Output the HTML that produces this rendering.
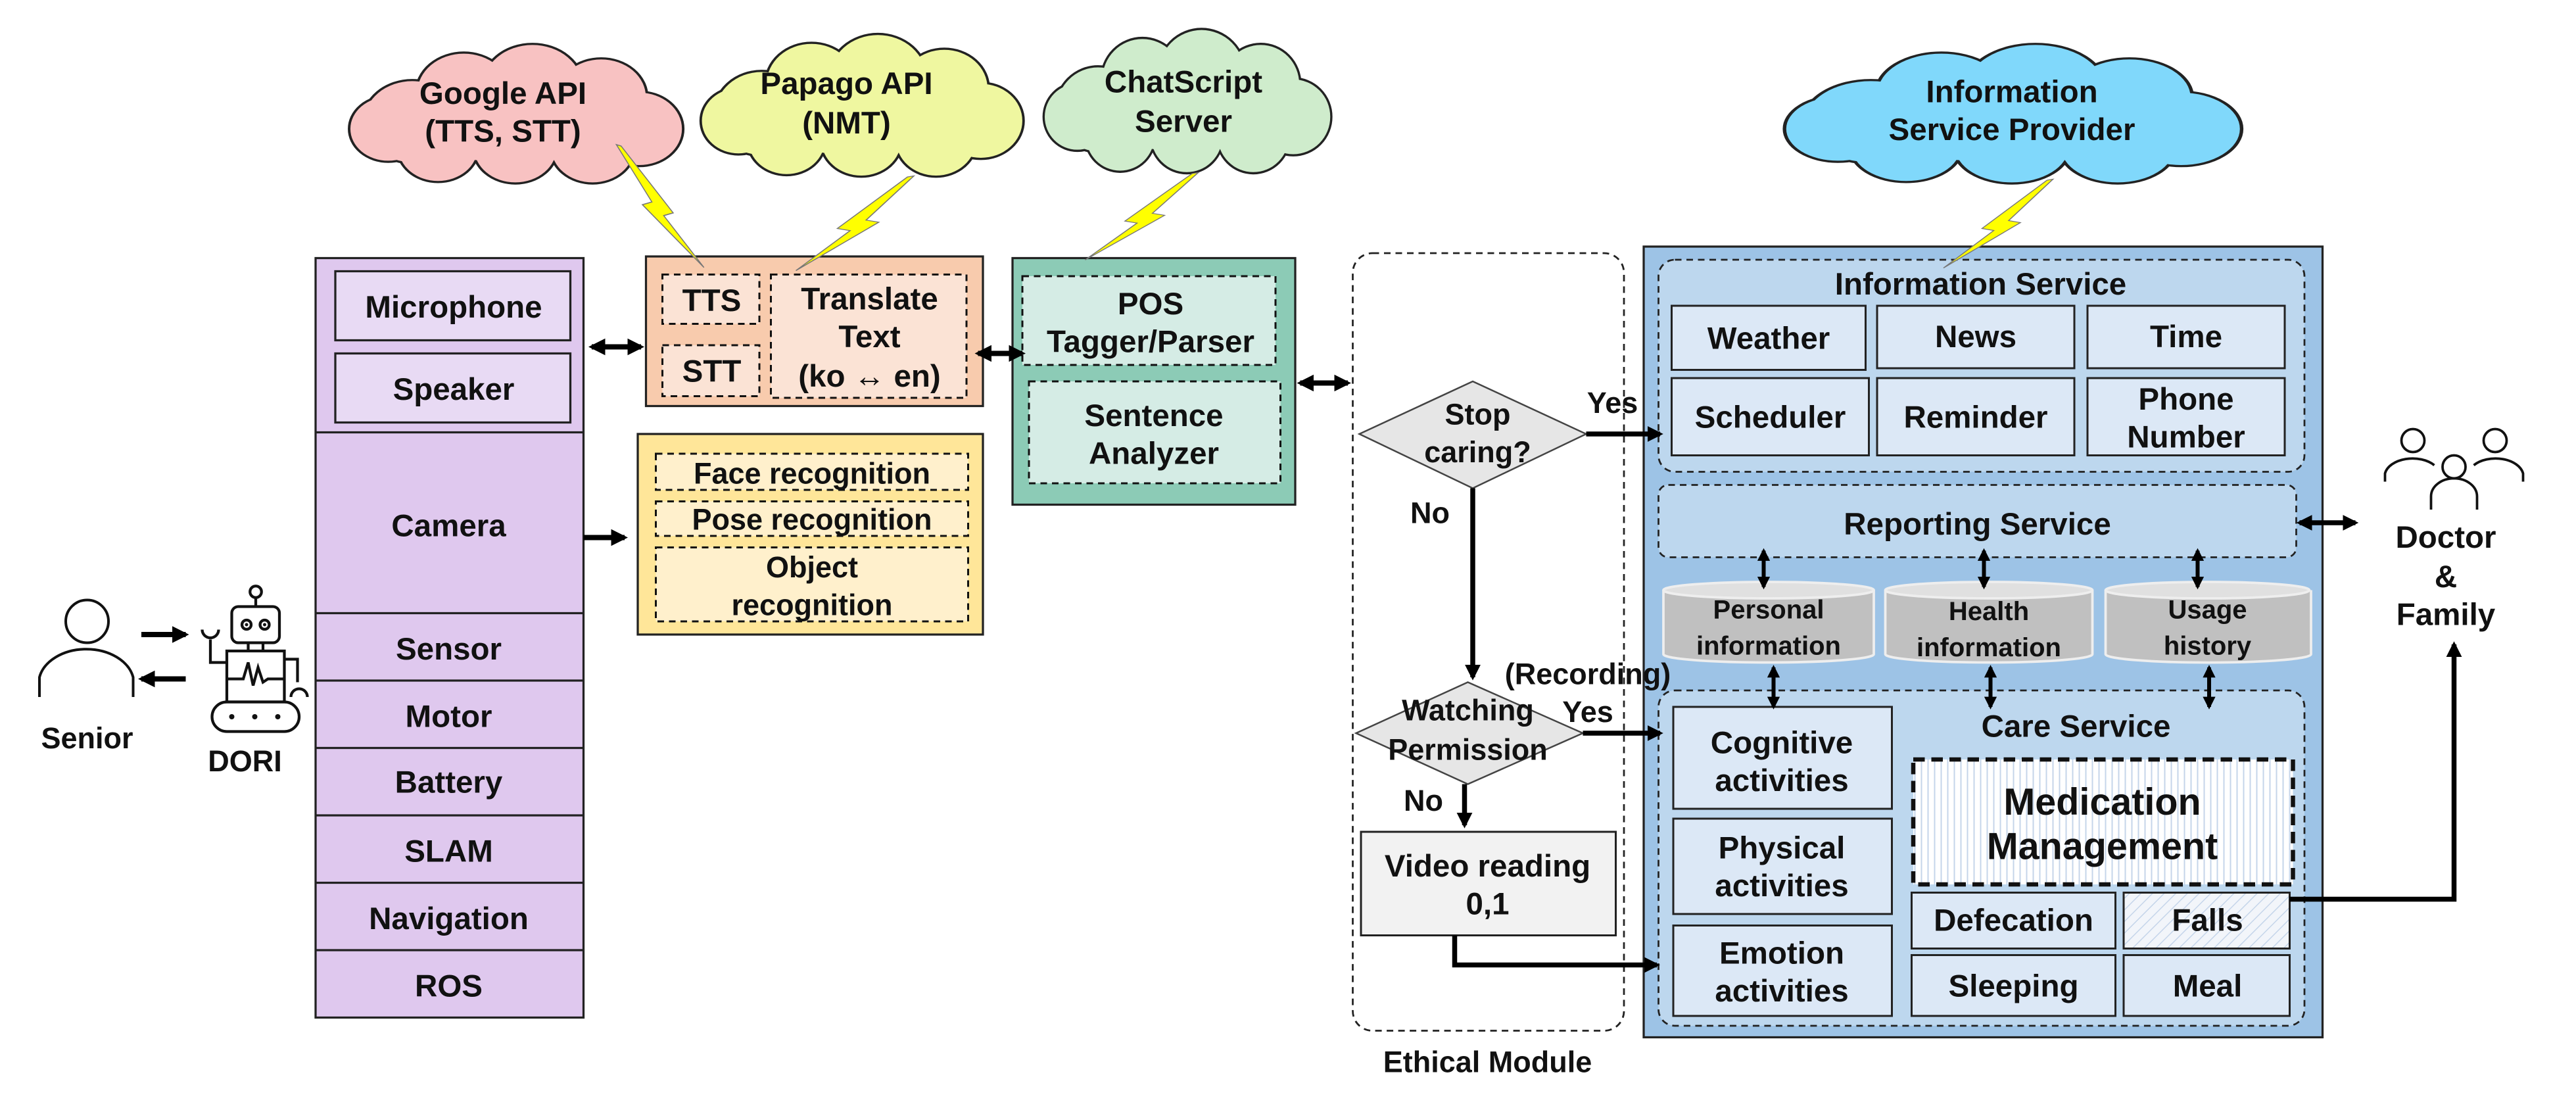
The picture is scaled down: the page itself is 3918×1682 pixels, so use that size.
<!DOCTYPE html>
<html><head><meta charset="utf-8"><style>
html,body{margin:0;padding:0;background:#fff;}
svg{display:block;}
text{font-family:"Liberation Sans",sans-serif;font-weight:bold;fill:#111;text-anchor:middle;dominant-baseline:central;}
</style></head><body>
<svg width="3918" height="1682" viewBox="0 0 1567.2 672.8" preserveAspectRatio="none" xmlns="http://www.w3.org/2000/svg">
<defs>
<g id="cloud">
<circle cx="40" cy="50" r="28"/><circle cx="70" cy="30" r="27"/><circle cx="110" cy="26" r="29"/><circle cx="150" cy="33" r="26"/><circle cx="172" cy="55" r="25"/><circle cx="145" cy="68" r="24"/><circle cx="100" cy="68" r="24"/><circle cx="55" cy="68" r="23"/><circle cx="26" cy="55" r="22"/><ellipse cx="100" cy="48" rx="75" ry="30"/>
</g>
<polygon id="bolt" points="0,0 -30,42 -22,44 -74,90 -40,52 -48,50 -4,1"/>
<marker id="ah" viewBox="0 0 10 10" refX="8" refY="5" markerWidth="3.2" markerHeight="3.2" orient="auto-start-reverse"><path d="M0,0 L10,5 L0,10 z" fill="#000"/></marker>
<pattern id="vl" width="4" height="4" patternUnits="userSpaceOnUse"><rect width="4" height="4" fill="#fff"/><line x1="1" y1="0" x2="1" y2="4" stroke="#c5d5ea" stroke-width="0.8"/></pattern>
<pattern id="dl" width="5" height="5" patternUnits="userSpaceOnUse" patternTransform="rotate(45)"><rect width="5" height="5" fill="#f2f5fa"/><line x1="0" y1="0" x2="0" y2="5" stroke="#c5d5ea" stroke-width="1.2"/></pattern>
</defs>

<!-- clouds -->
<g transform="translate(209,30) scale(1.045,0.88)"><use href="#cloud" fill="#f8c2c2" stroke="#222" stroke-width="3"/><use href="#cloud" fill="#f8c2c2" stroke="none"/></g>
<g transform="translate(423,24) scale(1.01,0.9)"><use href="#cloud" fill="#eff7a0" stroke="#222" stroke-width="3"/><use href="#cloud" fill="#eff7a0" stroke="none"/></g>
<g transform="translate(632,21) scale(0.9,0.91)"><use href="#cloud" fill="#cfeccc" stroke="#222" stroke-width="3"/><use href="#cloud" fill="#cfeccc" stroke="none"/></g>
<g transform="translate(1081,30) scale(1.43,0.88)"><use href="#cloud" fill="#80d8fb" stroke="#222" stroke-width="3"/><use href="#cloud" fill="#80d8fb" stroke="none"/></g>
<text x="306" y="57" font-size="19">Google API</text><text x="306" y="80" font-size="19">(TTS, STT)</text>
<text x="515" y="51" font-size="19">Papago API</text><text x="515" y="75" font-size="19">(NMT)</text>
<text x="720" y="50" font-size="19">ChatScript</text><text x="720" y="74" font-size="19">Server</text>
<text x="1224" y="56" font-size="19">Information</text><text x="1224" y="79" font-size="19">Service Provider</text>

<!-- purple stack -->
<rect x="192" y="157" width="163" height="462" fill="#dfc8ee" stroke="#222" stroke-width="1.3"/>
<g stroke="#222" stroke-width="1.3">
<line x1="192" y1="263" x2="355" y2="263"/><line x1="192" y1="373" x2="355" y2="373"/><line x1="192" y1="414" x2="355" y2="414"/><line x1="192" y1="455" x2="355" y2="455"/><line x1="192" y1="496" x2="355" y2="496"/><line x1="192" y1="537" x2="355" y2="537"/><line x1="192" y1="578" x2="355" y2="578"/>
</g>
<rect x="204" y="165" width="143" height="42" fill="#e8daf4" stroke="#222" stroke-width="1.3"/>
<rect x="204" y="215" width="143" height="42" fill="#e8daf4" stroke="#222" stroke-width="1.3"/>
<text x="276" y="187" font-size="19">Microphone</text>
<text x="276" y="237" font-size="19">Speaker</text>
<text x="273" y="320" font-size="19">Camera</text>
<text x="273" y="395" font-size="19">Sensor</text>
<text x="273" y="436" font-size="19">Motor</text>
<text x="273" y="476" font-size="19">Battery</text>
<text x="273" y="518" font-size="19">SLAM</text>
<text x="273" y="559" font-size="19">Navigation</text>
<text x="273" y="600" font-size="19">ROS</text>

<!-- orange -->
<rect x="393" y="156" width="205" height="91" fill="#f8cbad" stroke="#222" stroke-width="1.3"/>
<g fill="#fbe3d5" stroke="#111" stroke-width="1.2" stroke-dasharray="4,3">
<rect x="403" y="167" width="59" height="30"/><rect x="403" y="210" width="59" height="31"/><rect x="469" y="167" width="119" height="75"/>
</g>
<text x="433" y="183" font-size="19">TTS</text><text x="433" y="226" font-size="19">STT</text>
<text x="529" y="182" font-size="19">Translate</text><text x="529" y="205" font-size="19">Text</text><text x="529" y="229" font-size="19">(ko ↔ en)</text>

<!-- yellow -->
<rect x="388" y="264" width="210" height="122" fill="#ffe699" stroke="#222" stroke-width="1.3"/>
<g fill="#fff0cc" stroke="#111" stroke-width="1.2" stroke-dasharray="4,3">
<rect x="399" y="276" width="190" height="22"/><rect x="399" y="305" width="190" height="21"/><rect x="399" y="333" width="190" height="45"/>
</g>
<text x="494" y="288" font-size="18">Face recognition</text>
<text x="494" y="316" font-size="18">Pose recognition</text>
<text x="494" y="345" font-size="18">Object</text><text x="494" y="368" font-size="18">recognition</text>

<!-- green -->
<rect x="616" y="157" width="172" height="150" fill="#8ccbb6" stroke="#222" stroke-width="1.3"/>
<g fill="#d5ece5" stroke="#111" stroke-width="1.2" stroke-dasharray="4,3">
<rect x="622" y="168" width="154" height="54"/><rect x="626" y="232" width="153" height="62"/>
</g>
<text x="700" y="185" font-size="19">POS</text><text x="700" y="208" font-size="19">Tagger/Parser</text>
<text x="702" y="253" font-size="19">Sentence</text><text x="702" y="276" font-size="19">Analyzer</text>

<!-- left arrows -->
<g stroke="#000" stroke-width="3.2" fill="none">
<line x1="360" y1="211" x2="390" y2="211" marker-start="url(#ah)" marker-end="url(#ah)"/>
<line x1="595" y1="215" x2="622" y2="215" marker-start="url(#ah)" marker-end="url(#ah)"/>
<line x1="791" y1="233" x2="820" y2="233" marker-start="url(#ah)" marker-end="url(#ah)"/>
<line x1="355" y1="327" x2="380" y2="327" marker-end="url(#ah)"/>
<line x1="86" y1="386" x2="113" y2="386" marker-end="url(#ah)"/>
<line x1="113" y1="413" x2="86" y2="413" marker-end="url(#ah)"/>
</g>

<!-- senior -->
<circle cx="53" cy="378" r="13" fill="none" stroke="#111" stroke-width="1.6"/>
<path d="M24,424 V412 A29,21 0 0 1 81,412 V424" fill="none" stroke="#111" stroke-width="1.6"/>
<text x="53" y="449" font-size="18">Senior</text>

<!-- robot -->
<g fill="none" stroke="#111" stroke-width="1.7">
<circle cx="155.6" cy="360" r="3.5"/><line x1="155.6" y1="363.5" x2="155.6" y2="369"/>
<rect x="141" y="369" width="29" height="22" rx="4"/>
<circle cx="150" cy="380" r="2.8"/><circle cx="161" cy="380" r="2.8"/>
<line x1="151" y1="391" x2="151" y2="396"/><line x1="160" y1="391" x2="160" y2="396"/>
<rect x="138" y="396" width="35" height="31"/>
<polyline points="138,413 148,413 151,403 154,417 157,406 160,415 163,413 173,413"/>
<rect x="129" y="427" width="53" height="18" rx="9"/>
<polyline points="138,403 128,403 128,389"/><path d="M123,383 A5,5 0 0 0 133,383"/>
<polyline points="173,401 181,401 181,415"/><path d="M177,424 A5,5 0 0 1 187,424"/>
</g>
<g fill="#111"><circle cx="141" cy="436" r="1.6"/><circle cx="155" cy="436" r="1.6"/><circle cx="169" cy="436" r="1.6"/><circle cx="150" cy="380" r="1"/><circle cx="161" cy="380" r="1"/></g>
<text x="149" y="463" font-size="18">DORI</text>

<!-- ethical module -->
<rect x="823" y="154" width="165" height="473" rx="12" fill="none" stroke="#222" stroke-width="1.1" stroke-dasharray="4,3"/>
<text x="905" y="646" font-size="18">Ethical Module</text>
<polygon points="827,264 896,232 965,264 896,297" fill="#e6e6e6" stroke="#444" stroke-width="1"/>
<text x="899" y="252" font-size="18">Stop</text><text x="899" y="275" font-size="18">caring?</text>
<text x="981" y="245" font-size="18">Yes</text>
<text x="870" y="312" font-size="18">No</text>
<polygon points="825,446 893,415 963,446 893,477" fill="#e6e6e6" stroke="#444" stroke-width="1"/>
<text x="893" y="432" font-size="18">Watching</text><text x="893" y="456" font-size="18">Permission</text>
<text x="866" y="487" font-size="18">No</text>
<rect x="828" y="506" width="155" height="63" fill="#f2f2f2" stroke="#222" stroke-width="1.2"/>
<text x="905" y="527" font-size="19">Video reading</text><text x="905" y="550" font-size="19">0,1</text>

<!-- blue big box -->
<rect x="1000" y="150" width="413" height="481" fill="#9dc3e6" stroke="#222" stroke-width="1.3"/>
<g fill="#bdd7ee" stroke="#222" stroke-width="1.1" stroke-dasharray="4,3">
<rect x="1009" y="158" width="393" height="129" rx="10"/>
<rect x="1009" y="295" width="388" height="44" rx="6"/>
<rect x="1009" y="420" width="393" height="204" rx="10"/>
</g>
<text x="1205" y="173" font-size="19">Information Service</text>
<g fill="#dce8f6" stroke="#222" stroke-width="1.2">
<rect x="1017" y="186" width="118" height="39"/><rect x="1142" y="186" width="120" height="38"/><rect x="1270" y="186" width="120" height="38"/>
<rect x="1017" y="230" width="120" height="47"/><rect x="1142" y="230" width="120" height="47"/><rect x="1270" y="230" width="120" height="47"/>
</g>
<text x="1076" y="206" font-size="19">Weather</text><text x="1202" y="205" font-size="19">News</text><text x="1330" y="205" font-size="19">Time</text>
<text x="1077" y="254" font-size="19">Scheduler</text><text x="1202" y="254" font-size="19">Reminder</text>
<text x="1330" y="243" font-size="19">Phone</text><text x="1330" y="266" font-size="19">Number</text>
<text x="1203" y="319" font-size="19">Reporting Service</text>

<!-- cylinders -->
<g stroke="#eee" stroke-width="1.5">
<path d="M1012,359 V398 A64,5 0 0 0 1140,398 V359" fill="#c0c0c0"/><ellipse cx="1076" cy="359" rx="64" ry="5" fill="#e0e0e0"/>
<path d="M1147,359 V398 A63,5 0 0 0 1273,398 V359" fill="#c0c0c0"/><ellipse cx="1210" cy="359" rx="63" ry="5" fill="#e0e0e0"/>
<path d="M1281,359 V398 A62,5 0 0 0 1406,398 V359" fill="#c0c0c0"/><ellipse cx="1343" cy="359" rx="62" ry="5" fill="#e0e0e0"/>
</g>
<text x="1076" y="371" font-size="16">Personal</text><text x="1076" y="393" font-size="16">information</text>
<text x="1210" y="372" font-size="16">Health</text><text x="1210" y="394" font-size="16">information</text>
<text x="1343" y="371" font-size="16">Usage</text><text x="1343" y="393" font-size="16">history</text>

<text x="1263" y="442" font-size="19">Care Service</text>
<g fill="#dce8f6" stroke="#222" stroke-width="1.2">
<rect x="1018" y="430" width="133" height="62"/><rect x="1018" y="498" width="133" height="58"/><rect x="1018" y="563" width="133" height="55"/>
<rect x="1163" y="543" width="124" height="34"/><rect x="1163" y="581" width="124" height="37"/><rect x="1292" y="581" width="101" height="37"/>
</g>
<rect x="1292" y="543" width="101" height="34" fill="url(#dl)" stroke="#222" stroke-width="1.2"/>
<rect x="1164" y="462" width="231" height="76" fill="url(#vl)" stroke="#111" stroke-width="2.6" stroke-dasharray="7,4"/>
<text x="1084" y="452" font-size="19">Cognitive</text><text x="1084" y="475" font-size="19">activities</text>
<text x="1084" y="516" font-size="19">Physical</text><text x="1084" y="539" font-size="19">activities</text>
<text x="1084" y="580" font-size="19">Emotion</text><text x="1084" y="603" font-size="19">activities</text>
<text x="1279" y="488" font-size="23">Medication</text><text x="1279" y="515" font-size="23">Management</text>
<text x="1225" y="560" font-size="19">Defecation</text><text x="1343" y="560" font-size="19">Falls</text>
<text x="1225" y="600" font-size="19">Sleeping</text><text x="1343" y="600" font-size="19">Meal</text>

<text x="966" y="410" font-size="18">(Recording)</text>
<text x="966" y="433" font-size="18">Yes</text>

<!-- bolts (on top) -->
<use href="#bolt" transform="translate(375,88) scale(-0.72,0.83)" fill="#ffff00" stroke="#777" stroke-width="0.8"/>
<use href="#bolt" transform="translate(556,107) scale(0.97,0.64)" fill="#ffff00" stroke="#777" stroke-width="0.8"/>
<use href="#bolt" transform="translate(729,105) scale(0.93,0.59)" fill="#ffff00" stroke="#777" stroke-width="0.8"/>
<use href="#bolt" transform="translate(1249,109) scale(0.9,0.6)" fill="#ffff00" stroke="#777" stroke-width="0.8"/>

<!-- right arrows -->
<g stroke="#000" stroke-width="3" fill="none">
<line x1="965" y1="264" x2="1010" y2="264" marker-end="url(#ah)"/>
<line x1="896" y1="297" x2="896" y2="412" marker-end="url(#ah)"/>
<line x1="963" y1="446" x2="1010" y2="446" marker-end="url(#ah)"/>
<line x1="891" y1="477" x2="891" y2="502" marker-end="url(#ah)"/>
<polyline points="885,569 885,587 1008,587" marker-end="url(#ah)"/>
<line x1="1399" y1="318" x2="1433" y2="318" marker-start="url(#ah)" marker-end="url(#ah)"/>
<polyline points="1393,547 1493,547 1493,392" marker-end="url(#ah)"/>
</g>
<g stroke="#000" stroke-width="2.4" fill="none">
<line x1="1073" y1="335" x2="1073" y2="357" marker-start="url(#ah)" marker-end="url(#ah)"/>
<line x1="1207" y1="335" x2="1207" y2="357" marker-start="url(#ah)" marker-end="url(#ah)"/>
<line x1="1337" y1="335" x2="1337" y2="357" marker-start="url(#ah)" marker-end="url(#ah)"/>
<line x1="1079" y1="406" x2="1079" y2="430" marker-start="url(#ah)" marker-end="url(#ah)"/>
<line x1="1211" y1="406" x2="1211" y2="430" marker-start="url(#ah)" marker-end="url(#ah)"/>
<line x1="1344" y1="406" x2="1344" y2="430" marker-start="url(#ah)" marker-end="url(#ah)"/>
</g>

<!-- doctor & family -->
<g fill="none" stroke="#111" stroke-width="1.5">
<circle cx="1468" cy="268" r="7"/><circle cx="1518" cy="268" r="7"/><circle cx="1493" cy="284" r="7"/>
<path d="M1451,293 V288 A17,11 0 0 1 1481,283"/>
<path d="M1505,283 A17,11 0 0 1 1535,288 V293"/>
<path d="M1479,310 V302 A14,11 0 0 1 1507,302 V310"/>
</g>
<text x="1488" y="327" font-size="19">Doctor</text><text x="1488" y="351" font-size="19">&amp;</text><text x="1488" y="374" font-size="19">Family</text>
</svg>
</body></html>
